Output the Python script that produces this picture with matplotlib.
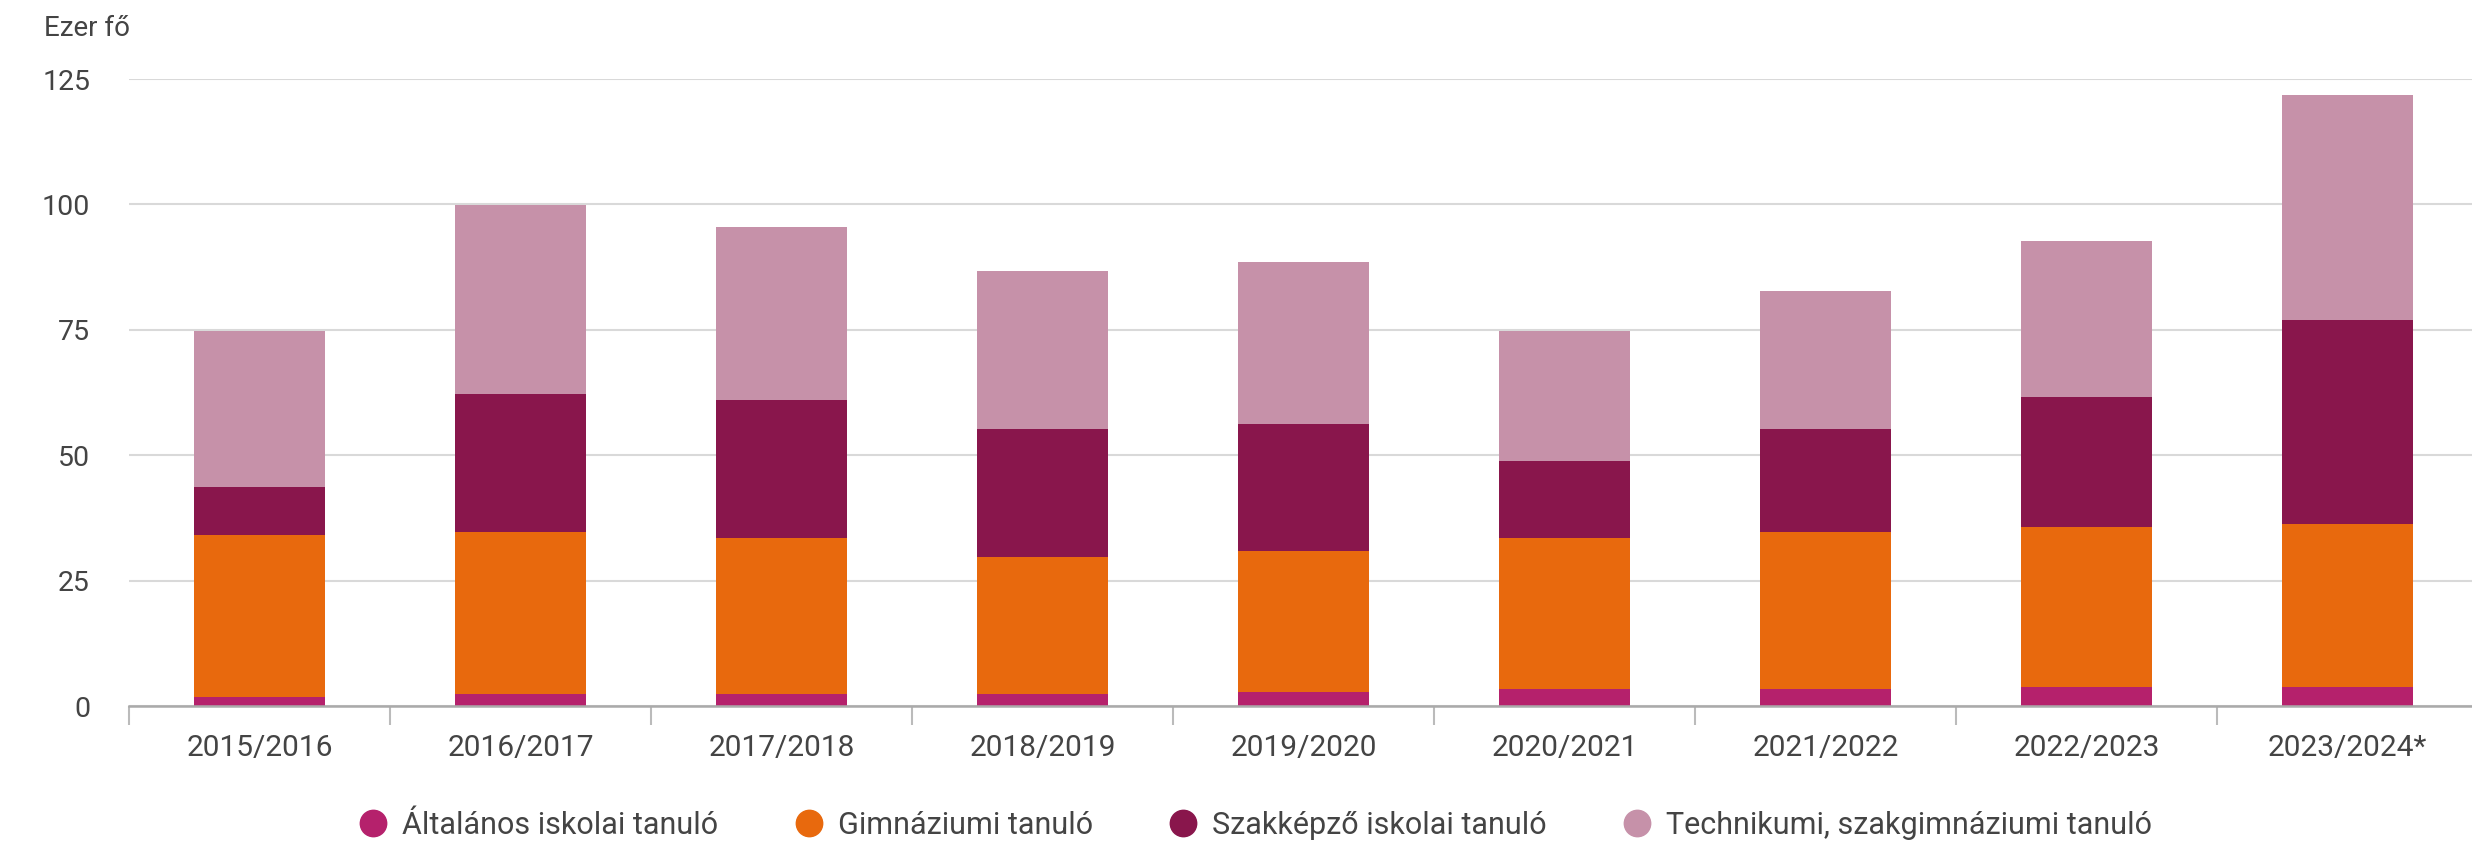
import matplotlib
matplotlib.use("Agg")
import matplotlib.pyplot as plt
from matplotlib.lines import Line2D
import numpy as np

# --- Adatok (ezer fő) ---
tanevek = ["2015/2016", "2016/2017", "2017/2018", "2018/2019", "2019/2020",
           "2020/2021", "2021/2022", "2022/2023", "2023/2024*"]
altalanos = [1.8, 2.3, 2.3, 2.3, 2.7, 3.3, 3.3, 3.8, 3.8]
gimnazium = [32.3, 32.3, 31.1, 27.5, 28.2, 30.1, 31.3, 31.8, 32.5]
szakkepzo = [9.6, 27.6, 27.7, 25.4, 25.3, 15.4, 20.7, 26.0, 40.7]
technikum = [31.1, 37.6, 34.4, 31.6, 32.4, 25.9, 27.4, 31.2, 44.8]

nevek = ["Általános iskolai tanuló", "Gimnáziumi tanuló",
         "Szakképző iskolai tanuló", "Technikumi, szakgimnáziumi tanuló"]
szinek = ["#b5216c", "#e8690d", "#89164c", "#c691a9"]

plt.rcParams['font.family'] = ['Roboto', 'DejaVu Sans']
szoveg = "#444444"

fig = plt.figure(figsize=(24.72, 8.55), dpi=100)
ax = fig.add_axes([129 / 2472, 149 / 855, 2349 / 2472, (706 - 79) / 855])

x = np.arange(len(tanevek))
also = np.zeros(len(tanevek))
for adat, szin in zip([altalanos, gimnazium, szakkepzo, technikum], szinek):
    ax.bar(x, adat, width=0.5, bottom=also, color=szin, zorder=3)
    also += np.array(adat)

ax.set_xlim(-0.5, len(tanevek) - 0.5)
ax.set_ylim(0, 125)
ax.set_yticks([0, 25, 50, 75, 100, 125])
ax.grid(axis='y', color='#d9d9d9', linewidth=1.5, zorder=0)
ax.tick_params(axis='y', length=0, pad=28, labelsize=20.5, labelcolor=szoveg)

# feliratok a középen, kis osztásjelek a kategóriák határán
ax.set_xticks(x)
ax.set_xticklabels(tanevek)
ax.tick_params(axis='x', which='major', length=0, pad=20, labelsize=21.5,
               labelcolor=szoveg)
ax.set_xticks(np.arange(len(tanevek) + 1) - 0.5, minor=True)
ax.tick_params(axis='x', which='minor', length=14, width=1.5, color='#bbbbbb')

for s in ['top', 'right', 'left']:
    ax.spines[s].set_visible(False)
ax.spines['bottom'].set_color('#aaaaaa')
ax.spines['bottom'].set_linewidth(1.8)
ax.spines['bottom'].set_zorder(4)

fig.text(44 / 2472, 1 - 28 / 855, "Ezer fő", fontsize=20, color=szoveg,
         ha='left', va='center')

jelek = [Line2D([0], [0], marker='o', linestyle='', markersize=19,
                markerfacecolor=c, markeredgecolor=c) for c in szinek]
fig.legend(jelek, nevek, loc='center', bbox_to_anchor=(0.508, 0.035),
           ncol=4, frameon=False, fontsize=22, handlelength=0.9,
           handletextpad=0.5, columnspacing=2.5, labelcolor=szoveg)

fig.savefig("out.png", dpi=100, facecolor='white')
